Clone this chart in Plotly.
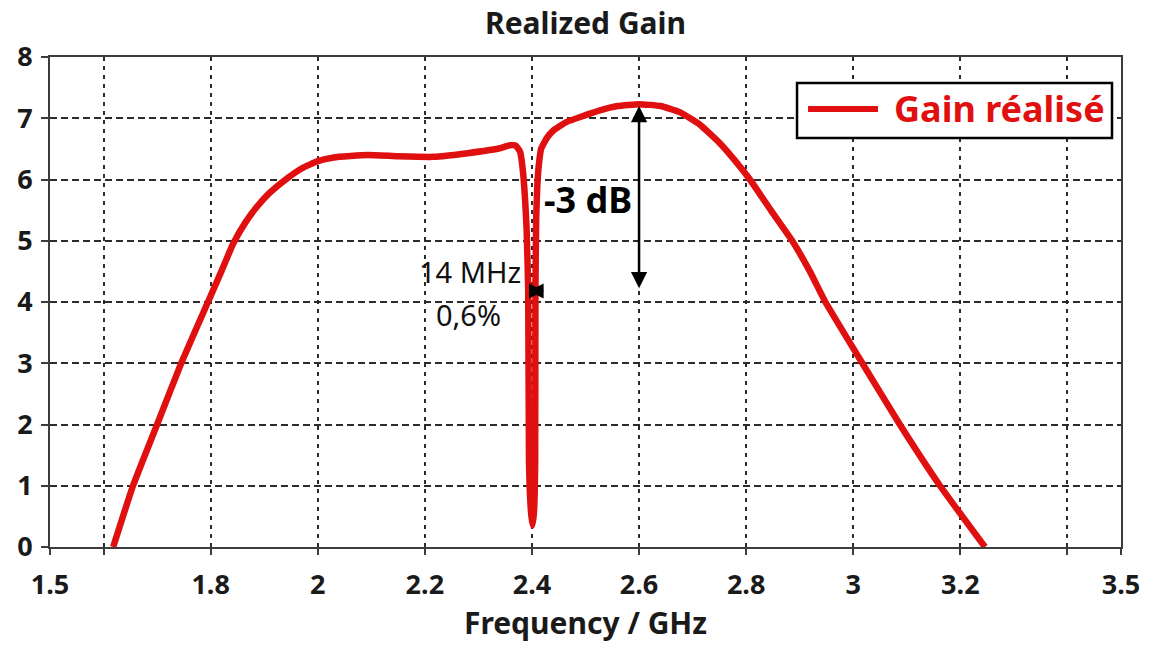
import plotly.graph_objects as go

freq_ghz = [1.618, 1.655, 1.700, 1.745, 1.795, 1.820, 1.842, 1.865, 1.886, 1.910, 1.943,
            1.970, 2.000, 2.030, 2.093, 2.150, 2.216, 2.280, 2.340, 2.359, 2.370, 2.378,
            2.383, 2.387, 2.390, 2.393, 2.3945, 2.398, 2.401, 2.404, 2.406, 2.4065, 2.408,
            2.410, 2.413, 2.417, 2.428, 2.440, 2.450, 2.465, 2.500, 2.527, 2.560,
            2.600, 2.640, 2.676, 2.713, 2.750, 2.780, 2.807, 2.846, 2.886, 2.919, 2.948,
            3.017, 3.087, 3.162, 3.246]
gain_db = [0.0, 1.0, 2.0, 3.0, 4.0, 4.5, 4.95, 5.3, 5.55, 5.78, 6.02,
           6.18, 6.30, 6.36, 6.40, 6.38, 6.37, 6.43, 6.51, 6.56, 6.55, 6.45,
           6.15, 5.70, 5.20, 4.20, 1.40, 0.60, 0.35, 0.60, 1.40, 4.20, 5.40,
           5.90, 6.25, 6.50, 6.68, 6.80, 6.86, 6.94, 7.05, 7.13, 7.20,
           7.23, 7.20, 7.10, 6.90, 6.60, 6.30, 6.00, 5.50, 5.00, 4.50, 4.00,
           3.00, 2.00, 1.00, 0.0]

x_ticks = [1.5, 1.6, 1.8, 2.0, 2.2, 2.4, 2.6, 2.8, 3.0, 3.2, 3.4, 3.5]
x_labels = ["1.5", "", "1.8", "2", "2.2", "2.4", "2.6", "2.8", "3", "3.2", "", "3.5"]

RED = "#e01010"
FONT = "Noto Sans"
GRID = "#2b2b2b"

fig = go.Figure()
fig.add_trace(go.Scatter(x=freq_ghz, y=gain_db, mode="lines", name="Gain réalisé",
                         line=dict(color=RED, width=6.5, shape="spline", smoothing=0.4),
                         showlegend=False))

# -3 dB arrow at 2.6 GHz
fig.add_annotation(x=2.6, y=7.2, ax=2.6, ay=4.2, xref="x", yref="y", axref="x", ayref="y",
                   text="", showarrow=True, arrowhead=2, arrowside="end+start",
                   arrowsize=1.3, arrowwidth=2.5, arrowcolor="black", standoff=0, startstandoff=0)
# 14 MHz bandwidth marker
fig.add_annotation(x=2.4225, y=4.18, ax=2.391, ay=4.18, xref="x", yref="y", axref="x", ayref="y",
                   text="", showarrow=True, arrowhead=2, arrowside="end+start",
                   arrowsize=1.0, arrowwidth=3, arrowcolor="black", standoff=0, startstandoff=0)

fig.add_annotation(x=2.505, y=5.67, xref="x", yref="y", text="-3 dB", showarrow=False,
                   font=dict(family=FONT, size=36, color="black", weight="bold"))
fig.add_annotation(x=2.284, y=4.5, xref="x", yref="y", text="14 MHz", showarrow=False,
                   font=dict(family=FONT, size=29, color="#111"))
fig.add_annotation(x=2.281, y=3.8, xref="x", yref="y", text="0,6%", showarrow=False,
                   font=dict(family=FONT, size=29, color="#111"))

# legend box drawn by hand (long line sample)
fig.add_shape(type="rect", xref="paper", yref="paper", x0=0.6975, x1=0.9916, y0=0.8347, y1=0.9469,
              fillcolor="white", line=dict(color="black", width=2.5), layer="above")
fig.add_shape(type="line", xref="paper", yref="paper", x0=0.7078, x1=0.7731, y0=0.8939, y1=0.8939,
              line=dict(color=RED, width=6), layer="above")
fig.add_annotation(xref="paper", yref="paper", x=0.786, y=0.8939, xanchor="left", yanchor="middle",
                   text="Gain réalisé", showarrow=False,
                   font=dict(family=FONT, size=36, color=RED, weight="bold"))

fig.update_layout(
    width=1151, height=645,
    margin=dict(l=50, r=30, t=57, b=98),
    plot_bgcolor="white", paper_bgcolor="white",
    font=dict(family=FONT, color="#1a1a1a"),
    title=dict(text="Realized Gain", x=0.5, xref="paper", xanchor="center",
               y=1 - 23 / 645, yanchor="middle",
               font=dict(family=FONT, size=30, color="#1a1a1a", weight="bold")),
)
fig.update_xaxes(range=[1.5, 3.5], tickvals=x_ticks, ticktext=x_labels,
                 ticks="outside", ticklen=6, tickwidth=2, tickcolor="#3c3c3c",
                 ticklabelstandoff=7,
                 tickfont=dict(family=FONT, size=27, weight="bold", color="#1a1a1a"),
                 showline=True, linecolor="#3c3c3c", linewidth=2, mirror=True,
                 showgrid=True, gridcolor=GRID, gridwidth=2, griddash="4px,5px",
                 zeroline=False, automargin=False,
                 title=dict(text="Frequency / GHz", standoff=11,
                            font=dict(family=FONT, size=30, weight="bold", color="#1a1a1a")))
fig.update_yaxes(range=[0, 8], dtick=1, tick0=0,
                 ticks="outside", ticklen=7, tickwidth=2, tickcolor="#3c3c3c",
                 ticklabelstandoff=3,
                 tickfont=dict(family=FONT, size=27, weight="bold", color="#1a1a1a"),
                 showline=True, linecolor="#3c3c3c", linewidth=2, mirror=True,
                 showgrid=True, gridcolor=GRID, gridwidth=2, griddash="7px,4px",
                 zeroline=False, automargin=False)

fig.write_html("out.html", config={"displayModeBar": False},
               post_script="document.body.style.margin='0';document.body.style.overflow='hidden';")
